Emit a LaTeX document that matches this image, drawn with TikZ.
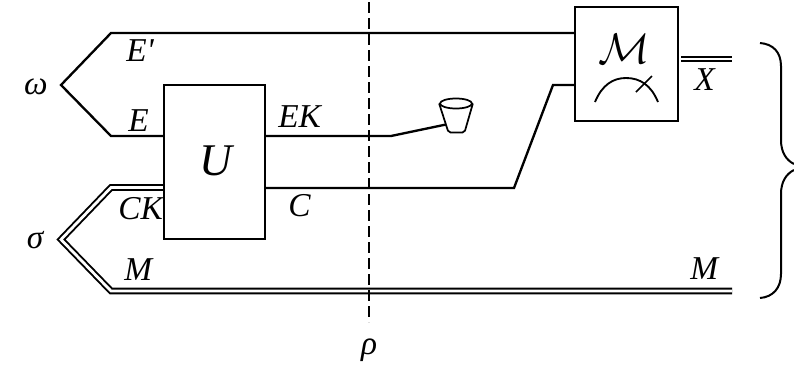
\documentclass[tikz,border=0pt]{standalone}
\usepackage{fontspec}
\usepackage{graphicx}
\setmainfont{Liberation Serif}
\newfontfamily\rawserif{Liberation Serif}
\usetikzlibrary{shapes.geometric}
\tikzset{
  wire/.style={line width=1.75pt,line join=miter},
  dwire/.style={line width=1.45pt,double,double distance=2.1pt,line join=miter,miter limit=20},
  boxnode/.style={draw,line width=1.8pt,inner sep=0pt,fill=white},
  lab/.style={inner sep=0pt,anchor=base west,font=\fontsize{25}{25}\selectfont\itshape},
  greek/.style={inner sep=0pt,anchor=base,font=\fontsize{25}{25}\selectfont\itshape},
}
\begin{document}
\begin{tikzpicture}[x=0.75pt,y=-0.75pt]
\useasboundingbox (0,0) rectangle (794,365);
% coordinates
\coordinate (apexA) at (61,85);
\coordinate (topL) at (111,33);
\coordinate (lowL) at (111,136);
\coordinate (apexB) at (61,239.5);
\coordinate (csU) at (111,187.5);
\coordinate (msL) at (111,291);
\coordinate (msR) at (732,291);
\coordinate (ekB) at (391,136);
\coordinate (cB) at (514,188);
\coordinate (cT) at (553,85);
\coordinate (rhoT) at (369,2);
\coordinate (rhoB) at (369,322);
% boxes
\node[boxnode,minimum width=75.75pt,minimum height=115.5pt] (U) at (214.5,162) {};
\node[boxnode,minimum width=77.25pt,minimum height=85.5pt] (Mbox) at (626.5,64) {};
\node[inner sep=0pt,anchor=base,font=\fontsize{34}{34}\selectfont\itshape] (Ulab) at (216,175) {U};
\node[inner sep=0pt,anchor=base] (Mlab) at (624,63.5) {\scalebox{1.29}{\fontsize{24.88}{30}\selectfont$\mathcal{M}$}};
% cup
\node[draw,ellipse,line width=1.3pt,minimum width=24pt,minimum height=7.5pt,inner sep=0pt] (cupTop) at (456,103.5) {};
\coordinate (cupIn) at (446,124.5);
\draw[line width=1.3pt,rounded corners=1.5pt] (cupTop.west) -- (448.5,132.5) -- (464.5,132.5) -- (cupTop.east);
% wires
\draw[wire] (Mbox.west |- topL) -- (topL) -- (apexA) -- (lowL) -- (U.west |- lowL);
\draw[wire] (U.east |- lowL) -- (ekB) -- (cupIn);
\draw[wire] (U.east |- cB) -- (cB) -- (cT) -- (Mbox.west |- cT);
\draw[dwire] (U.west |- csU) -- (csU) -- (apexB) -- (msL) -- (msR);
\coordinate (xL) at (681,59);
\coordinate (xR) at (732,59);
\draw[dwire] (xL) -- (xR);
\draw[line width=1.1pt,dash pattern=on 8.25pt off 3.75pt] (rhoT) -- (rhoB);
% meter
\draw[line width=1.4pt] (595,102) .. controls (602,85) and (613,78) .. (626,78) .. controls (640,78) and (651,85) .. (658,102);
\draw[line width=1.1pt] (636,92) -- (652,76);
% brace
\draw[line width=1.5pt] (760,43) .. controls (773,44) and (781,52) .. (781,66) -- (781,140) .. controls (781,152) and (786,160) .. (794,164);
\draw[line width=1.5pt] (794,170) .. controls (786,174) and (781,182) .. (781,194) -- (781,274) .. controls (781,288) and (773,297) .. (760,298);
% labels
\node[greek] (om) at (36,94) {ω};
\node[greek] (si) at (35,248) {σ};
\node[greek] (rh) at (369,354) {ρ};
\node[lab] (lEp) at (126,61) {\rawserif\itshape E'};
\node[lab] (lE) at (128,131) {E};
\node[lab] (lCK) at (118,219) {CK};
\node[lab] (lM) at (124,280) {M};
\node[lab] (lEK) at (278,127) {EK};
\node[lab] (lC) at (288,216) {C};
\node[lab] (lM2) at (690,279) {M};
\node[lab] (lX) at (694,90) {X};
\end{tikzpicture}
\end{document}
